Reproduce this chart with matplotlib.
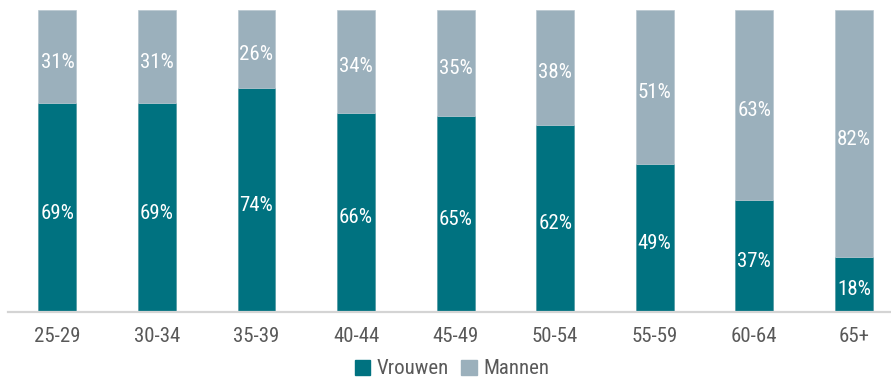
import matplotlib.pyplot as plt
from matplotlib import font_manager
from matplotlib.patches import Patch
import numpy as np

categories = ["25-29", "30-34", "35-39", "40-44", "45-49", "50-54", "55-59", "60-64", "65+"]
vrouwen = [69, 69, 74, 66, 65, 62, 49, 37, 18]
mannen = [31, 31, 26, 34, 35, 38, 51, 63, 82]

TEAL = "#007280"
GREY = "#9BB0BC"
TEXT = "#595959"

names = {f.name for f in font_manager.fontManager.ttflist}
family = "Roboto"
for cand in ["Roboto Condensed", "Liberation Sans Narrow", "Noto Sans Condensed",
             "Open Sans Condensed", "DejaVu Sans Condensed"]:
    if cand in names:
        family = cand
        break
plt.rcParams["font.family"] = [family, "DejaVu Sans"]
print(family)

fig = plt.figure(figsize=(8.91, 3.78), dpi=100)
# axes slightly wider than the figure: the right edge is cut off in the original
ax = fig.add_axes([7.6 / 891, 66.5 / 378, 896 / 891, 301.5 / 378])

x = np.arange(len(categories))
width = 0.38
ax.bar(x, vrouwen, width, color=TEAL, edgecolor="#4f98a1", linewidth=0.5)
ax.bar(x, mannen, width, bottom=vrouwen, color=GREY, edgecolor="#b8c7d0", linewidth=0.5)

for i in range(len(categories)):
    ax.annotate(f"{vrouwen[i]}%", (x[i], vrouwen[i] / 2), xytext=(0, -4),
                textcoords="offset points", ha="center", va="center",
                color="white", fontsize=15, fontstretch="condensed")
    ax.annotate(f"{mannen[i]}%", (x[i], vrouwen[i] + mannen[i] / 2), xytext=(0, -4),
                textcoords="offset points", ha="center", va="center",
                color="white", fontsize=15, fontstretch="condensed")

ax.set_xlim(-0.5, len(categories) - 0.5)
ax.set_ylim(0, 100)
ax.set_xticks(x)
ax.set_xticklabels(categories, fontsize=15, color=TEXT, fontstretch="condensed")
ax.tick_params(axis="x", length=0, pad=11)
ax.set_yticks([])
for side in ["top", "left", "right"]:
    ax.spines[side].set_visible(False)
ax.spines["bottom"].set_color("#d4d4d4")
ax.spines["bottom"].set_linewidth(1.6)

handles = [Patch(color=TEAL, label="Vrouwen"), Patch(color=GREY, label="Mannen")]
leg = fig.legend(handles=handles, loc="center", bbox_to_anchor=(452 / 891, 1 - 369 / 378),
                 ncol=2, frameon=False, prop={"size": 15, "stretch": "condensed"},
                 handlelength=0.75, handleheight=0.75,
                 handletextpad=0.3, columnspacing=0.6)
for t in leg.get_texts():
    t.set_color(TEXT)

fig.savefig("out.png", dpi=100)
